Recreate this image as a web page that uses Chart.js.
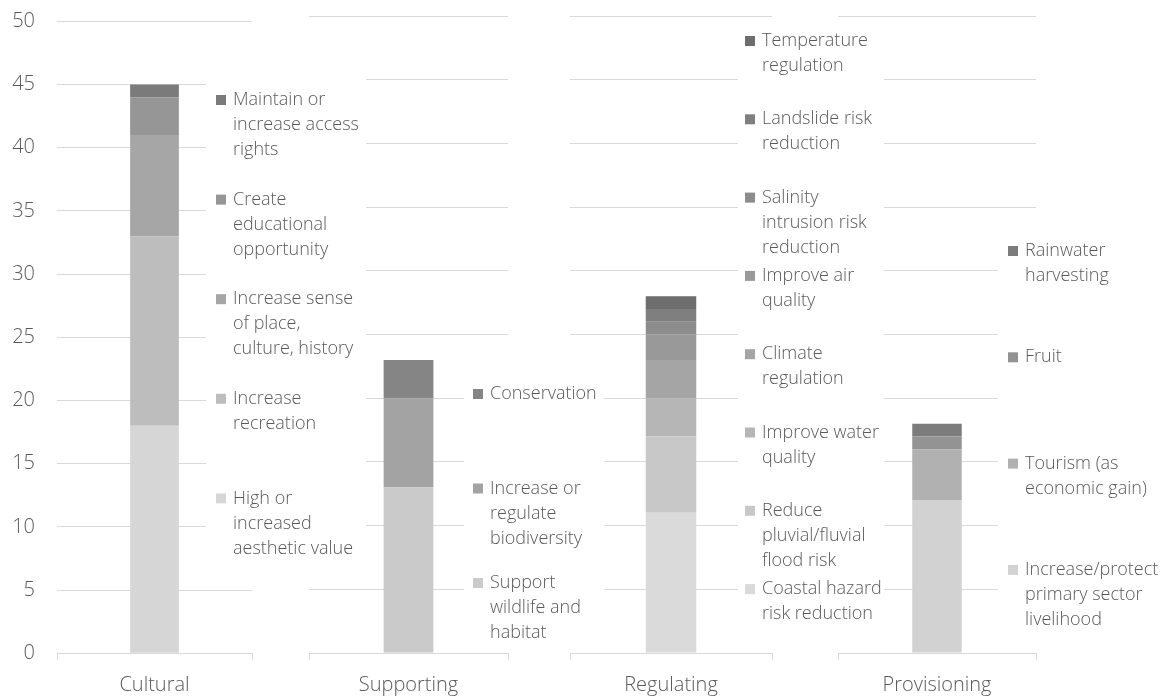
<!DOCTYPE html>
<html>
<head>
<meta charset="utf-8">
<script src="https://cdn.jsdelivr.net/npm/chart.js@4.4.1/dist/chart.umd.min.js"></script>
<style>
  html, body { margin: 0; padding: 0; background: #fff; width: 1169px; height: 699px; overflow: hidden; }
  canvas { position: absolute; left: 0; top: 0; }
</style>
</head>
<body>
<canvas id="panel4" width="1169" height="699" style="z-index:1"></canvas>
<canvas id="panel3" width="1169" height="699" style="z-index:2"></canvas>
<canvas id="panel2" width="1169" height="699" style="z-index:3"></canvas>
<canvas id="panel1" width="1169" height="699" style="z-index:4"></canvas>
<script>
// Ecosystem service categories (one stacked bar each)
const categories = ['Cultural', 'Supporting', 'Regulating', 'Provisioning'];

// Series are listed bottom of the stack first; names are pre-split into legend lines
const culturalNames = [
  ['High or', 'increased', 'aesthetic value'],
  ['Increase', 'recreation'],
  ['Increase sense', 'of place,', 'culture, history'],
  ['Create', 'educational', 'opportunity'],
  ['Maintain or', 'increase access', 'rights']
];
const culturalValues = [18, 15, 8, 3, 1];
const culturalColors = ['#d6d6d6', '#bdbdbd', '#a6a6a6', '#969696', '#7b7b7b'];

const supportingNames = [
  ['Support', 'wildlife and', 'habitat'],
  ['Increase or', 'regulate', 'biodiversity'],
  ['Conservation']
];
const supportingValues = [13, 7, 3];
const supportingColors = ['#cacaca', '#a3a3a3', '#858585'];

const regulatingNames = [
  ['Coastal hazard', 'risk reduction'],
  ['Reduce', 'pluvial/fluvial', 'flood risk'],
  ['Improve water', 'quality'],
  ['Climate', 'regulation'],
  ['Improve air', 'quality'],
  ['Salinity', 'intrusion risk', 'reduction'],
  ['Landslide risk', 'reduction'],
  ['Temperature', 'regulation']
];
const regulatingValues = [11, 6, 3, 3, 2, 1, 1, 1];
const regulatingColors = ['#dadada', '#c8c8c8', '#b6b6b6', '#a5a5a5', '#999999', '#8c8c8c', '#7f7f7f', '#6e6e6e'];

const provisioningNames = [
  ['Increase/protect', 'primary sector', 'livelihood'],
  ['Tourism (as', 'economic gain)'],
  ['Fruit'],
  ['Rainwater', 'harvesting']
];
const provisioningValues = [12, 4, 1, 1];
const provisioningColors = ['#d2d2d2', '#b1b1b1', '#939393', '#7c7c7c'];

// Value axis
const yMin = 0;
const yMax = 50;
const yStep = 5;

const TEXT = '#595959';
const GRID = '#d9d9d9';
const FAMILY = "'Open Sans', 'Liberation Sans', sans-serif";
const LINE_H = 25;

// Legend drawn beside each bar: opaque box, swatches and wrapped names, top series first
const sideLegend = {
  id: 'sideLegend',
  afterDraw(chart, args, opts) {
    const ctx = chart.ctx;
    const [x0, y0, x1, y1] = opts.box;
    ctx.save();
    ctx.fillStyle = '#ffffff';
    ctx.fillRect(x0, y0, x1 - x0, y1 - y0);
    ctx.font = '300 18px ' + FAMILY;
    ctx.textBaseline = 'middle';
    ctx.textAlign = 'left';
    const ds = chart.data.datasets;
    for (let i = ds.length - 1, k = 0; i >= 0; i--, k++) {
      const y = opts.firstLine + k * opts.pitch;
      ctx.fillStyle = ds[i].backgroundColor;
      ctx.fillRect(opts.textX - 17, y - 5, 10, 10);
      ctx.fillStyle = TEXT;
      ds[i].lines.forEach((ln, j) => ctx.fillText(ln, opts.textX, y + j * LINE_H));
    }
    ctx.restore();
  }
};

function makePanel(id, category, names, values, colors, geom, showValues) {
  const W = 1169, H = 699;
  const datasets = names.map((lines, i) => ({
    label: lines.join(' '),
    lines: lines,
    data: [values[i]],
    backgroundColor: colors[i],
    borderWidth: 0,
    barPercentage: 0.25,
    categoryPercentage: 1.0
  }));
  return new Chart(document.getElementById(id), {
    type: 'bar',
    data: { labels: [category], datasets: datasets },
    plugins: [sideLegend],
    options: {
      responsive: false,
      animation: false,
      events: [],
      layout: {
        padding: { left: showValues ? 0 : geom.left, right: W - geom.right, top: geom.top, bottom: 0 }
      },
      plugins: {
        legend: { display: false },
        tooltip: { enabled: false },
        sideLegend: geom.legend
      },
      scales: {
        x: {
          stacked: true,
          offset: true,
          afterFit(scale) {
            scale.height = H - geom.bottom;
            scale.paddingLeft = 0;
            scale.paddingRight = 0;
          },
          border: { display: true, color: GRID, width: 1 },
          grid: { display: true, offset: true, drawOnChartArea: false, drawTicks: true, tickLength: 7, color: GRID },
          ticks: { color: TEXT, font: { family: FAMILY, size: 20, weight: '300' }, padding: 13 }
        },
        y: {
          stacked: true,
          min: yMin,
          max: yMax,
          afterFit(scale) {
            scale.width = showValues ? geom.left : 0;
            scale.paddingTop = 0;
            scale.paddingBottom = 0;
          },
          border: { display: false },
          grid: { color: GRID, drawTicks: false, lineWidth: 1 },
          ticks: {
            display: showValues,
            stepSize: yStep,
            color: TEXT,
            padding: 22,
            font: { family: FAMILY, size: 20, weight: '300' }
          }
        }
      }
    }
  });
}

makePanel('panel1', categories[0], culturalNames, culturalValues, culturalColors, {
  left: 57, right: 252, top: 21.3, bottom: 653.3,
  legend: { box: [206, 60, 366, 575], textX: 233, firstLine: 100, pitch: 99.6 }
}, true);

makePanel('panel2', categories[1], supportingNames, supportingValues, supportingColors, {
  left: 309, right: 508, top: 16, bottom: 653,
  legend: { box: [464, 370, 604, 648], textX: 490, firstLine: 394, pitch: 94.5 }
}, false);

makePanel('panel3', categories[2], regulatingNames, regulatingValues, regulatingColors, {
  left: 570, right: 772, top: 16, bottom: 653,
  legend: { box: [738, 24, 884, 632], textX: 762, firstLine: 41, pitch: 78.3 }
}, false);

makePanel('panel4', categories[3], provisioningNames, provisioningValues, provisioningColors, {
  left: 838, right: 1036, top: 16, bottom: 653,
  legend: { box: [998, 225, 1169, 645], textX: 1025, firstLine: 251, pitch: 106.3 }
}, false);
</script>
</body>
</html>
